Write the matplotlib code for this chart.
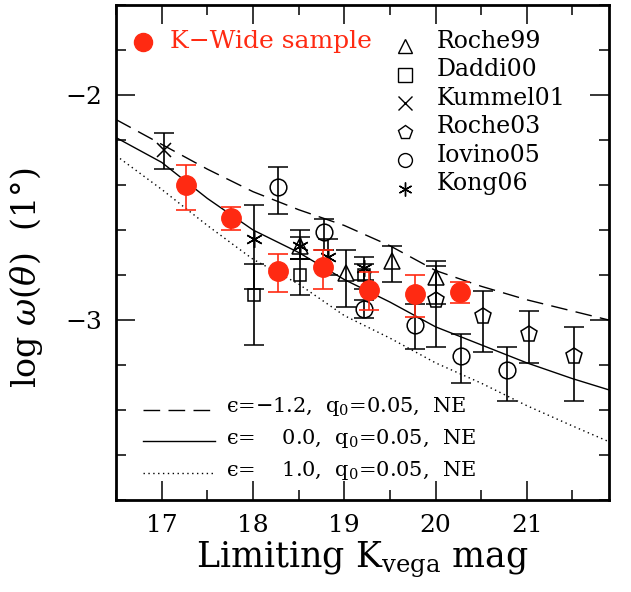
import numpy as np
import matplotlib
matplotlib.use("Agg")
import matplotlib.pyplot as plt

plt.rcParams['font.family'] = ['DejaVu Serif']
plt.rcParams['mathtext.fontset'] = 'dejavuserif'

# K-Wide sample (red filled circles)
kw_x = [17.27, 17.76, 18.27, 18.77, 19.27, 19.77, 20.27]
kw_y = [-2.40, -2.545, -2.78, -2.765, -2.865, -2.885, -2.875]
kw_lo = [0.11, 0.055, 0.095, 0.095, 0.09, 0.10, 0.05]
kw_hi = [0.09, 0.045, 0.075, 0.075, 0.08, 0.085, 0.045]

# literature points: x, y, err_low, err_high
roche99_x = [18.52, 19.02, 19.52, 20.0]
roche99_y = [-2.67, -2.79, -2.74, -2.81]
roche99_lo = [0.06, 0.15, 0.09, 0.12]
roche99_hi = [0.07, 0.10, 0.07, 0.07]

daddi00_x = [18.01, 18.52, 19.22]
daddi00_y = [-2.89, -2.80, -2.80]
daddi00_lo = [0.22, 0.09, 0.06]
daddi00_hi = [0.14, 0.07, 0.05]

kummel01_x = [17.02]
kummel01_y = [-2.245]
kummel01_lo = [0.085]
kummel01_hi = [0.075]

roche03_x = [20.0, 20.52, 21.02, 21.52]
roche03_y = [-2.91, -2.98, -3.06, -3.16]
roche03_lo = [0.21, 0.16, 0.13, 0.20]
roche03_hi = [0.15, 0.11, 0.10, 0.13]

iovino05_x = [18.27, 18.78, 19.22, 19.78, 20.28, 20.78]
iovino05_y = [-2.41, -2.61, -2.95, -3.02, -3.16, -3.22]
iovino05_lo = [0.12, 0.08, 0.04, 0.11, 0.12, 0.14]
iovino05_hi = [0.09, 0.06, 0.04, 0.09, 0.10, 0.10]

kong06_x = [18.01, 18.52, 18.82, 19.22]
kong06_y = [-2.64, -2.67, -2.72, -2.77]
kong06_lo = [0.22, 0.06, 0.08, 0.05]
kong06_hi = [0.15, 0.04, 0.08, 0.05]

# model curves
mod_x = [16.5, 17.0, 17.5, 18.0, 18.5, 19.0, 19.5, 20.0, 20.5, 21.0, 21.5, 21.9]
mod_neg = [-2.11, -2.22, -2.33, -2.43, -2.51, -2.58, -2.67, -2.78, -2.85, -2.91, -2.96, -3.00]
mod_zero = [-2.19, -2.30, -2.46, -2.60, -2.70, -2.82, -2.92, -3.03, -3.11, -3.19, -3.26, -3.31]
mod_pos = [-2.27, -2.42, -2.58, -2.73, -2.84, -2.98, -3.08, -3.19, -3.28, -3.38, -3.47, -3.54]
mod_labels = ['\u03f5=\u22121.2,  q$_0$=0.05,  NE',
              '\u03f5=    0.0,  q$_0$=0.05,  NE',
              '\u03f5=    1.0,  q$_0$=0.05,  NE']

red = '#ff2a12'

fig = plt.figure(figsize=(6.31, 5.92), dpi=100)
ax = fig.add_axes([0.184, 0.155, 0.781, 0.837])

ax.plot(mod_x, mod_neg, color='black', lw=1.0, dashes=(12, 6))
ax.plot(mod_x, mod_zero, color='black', lw=1.0)
ax.plot(mod_x, mod_pos, color='black', lw=1.0, ls=(0, (1, 2.5)))

ebk = dict(color='black', ecolor='black', elinewidth=1.2, capsize=7, capthick=1.2,
           ls='none', mfc='none', mec='black', mew=1.1)

sets = [
    (roche99_x, roche99_y, roche99_lo, roche99_hi, '^', 11, 'Roche99'),
    (daddi00_x, daddi00_y, daddi00_lo, daddi00_hi, 's', 9, 'Daddi00'),
    (kummel01_x, kummel01_y, kummel01_lo, kummel01_hi, 'x', 10, 'Kummel01'),
    (roche03_x, roche03_y, roche03_lo, roche03_hi, 'p', 12, 'Roche03'),
    (iovino05_x, iovino05_y, iovino05_lo, iovino05_hi, 'o', 12, 'Iovino05'),
    (kong06_x, kong06_y, kong06_lo, kong06_hi, (6, 2, 0), 12, 'Kong06'),
]
for x, y, lo, hi, m, ms, lab in sets:
    ax.errorbar(x, y, yerr=[lo, hi], marker=m, ms=ms, **ebk)

ax.errorbar(kw_x, kw_y, yerr=[kw_lo, kw_hi], fmt='o', ms=14, color=red,
            ecolor=red, elinewidth=1.2, capsize=7, capthick=1.2, zorder=5)

# top legends (drawn as text/markers in axes coords)
ax.plot([0.055], [0.924], 'o', ms=13, color=red, transform=ax.transAxes, clip_on=False)
ax.text(0.11, 0.926, 'K\u2212Wide sample', color=red, fontsize=18,
        transform=ax.transAxes, va='center', ha='left')
for i, (x, y, lo, hi, m, ms, lab) in enumerate(sets):
    yy = 0.926 - i * 0.0575
    ax.plot([0.587], [yy - 0.01], marker=m, ms=10, mfc='none', mec='black',
            mew=1.0, color='black', transform=ax.transAxes, ls='none')
    ax.text(0.65, yy, lab, fontsize=17, transform=ax.transAxes, va='center', ha='left')

# bottom-left model legend
styles = [dict(dashes=(12, 6)), dict(ls='-'), dict(ls=(0, (1, 2.5)))]
for i, (lab, st) in enumerate(zip(mod_labels, styles)):
    yy = 0.183 - i * 0.064
    ax.plot([0.055, 0.2], [yy, yy], color='black', lw=1.0, transform=ax.transAxes, **st)
    ax.text(0.222, yy + 0.006, lab, fontsize=15, transform=ax.transAxes,
            va='center', ha='left')

ax.set_xlim(16.5, 21.9)
ax.set_ylim(-3.8, -1.6)
ax.set_xticks([17, 18, 19, 20, 21])
ax.set_xticks(np.arange(16.5, 21.9, 0.5), minor=True)
ax.set_yticks([-3, -2])
ax.set_yticks(np.arange(-3.8, -1.59, 0.2), minor=True)
ax.set_yticklabels(['\u22123', '\u22122'])
ax.tick_params(which='both', direction='in', top=True, right=True, labelsize=18, width=1.1)
ax.tick_params(which='major', length=14, pad=10)
ax.tick_params(which='minor', length=7)
for sp in ax.spines.values():
    sp.set_linewidth(2.0)

ax.set_xlabel(r'Limiting K$_{\rm vega}$ mag', fontsize=25, labelpad=2)
ax.set_ylabel(r'log $\omega(\theta)$  (1$\degree$)', fontsize=24)
ax.yaxis.set_label_coords(-0.145, 0.45)

fig.savefig('out.png', dpi=100)
